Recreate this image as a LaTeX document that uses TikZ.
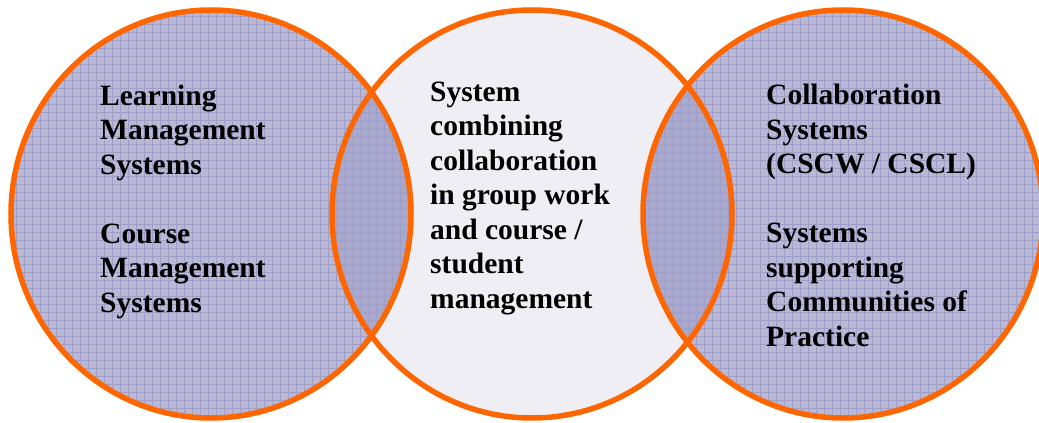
\documentclass[tikz,border=0pt]{standalone}
\usepackage{fontspec}
\setmainfont{Liberation Serif}
\usepackage{tikz}

\definecolor{ringorange}{HTML}{FF6600}
\definecolor{outerfill}{HTML}{B9B9D6}
\definecolor{lensfill}{HTML}{A9A9CD}
\definecolor{midfill}{HTML}{EEEEF4}
\definecolor{gridpurple}{HTML}{9E9EC8}

\begin{document}
\begin{tikzpicture}[
        x=1pt, y=-1pt,
        ring/.style={draw=ringorange, line width=5.5pt},
        gridlines/.style={draw=gridpurple, line width=0.6pt, step=8pt},
        label/.style={anchor=base west, align=left, inner sep=0pt, font=\bfseries\fontsize{29.5}{34.5}\selectfont}
    ]
    \useasboundingbox (0, 0) rectangle (1039, 423);

    % centres of the three sets
    \coordinate (lms) at (211, 214);
    \coordinate (mid) at (532, 214);
    \coordinate (cscw) at (843, 214);

    % --- Fills ---
    \fill[midfill] (mid) ellipse [x radius=200, y radius=204];
    \fill[outerfill] (lms) ellipse [x radius=200, y radius=204];
    \fill[outerfill] (cscw) ellipse [x radius=200, y radius=204];

    % Overlaps are a shade darker
    \begin{scope}
        \clip (mid) ellipse [x radius=200, y radius=204];
        \fill[lensfill] (lms) ellipse [x radius=200, y radius=204];
        \fill[lensfill] (cscw) ellipse [x radius=200, y radius=204];
    \end{scope}

    % Grid texture on the two outer sets
    \begin{scope}
        \clip (lms) ellipse [x radius=200, y radius=204];
        \draw[gridlines] (0, 0) grid (1039, 423);
    \end{scope}
    \begin{scope}
        \clip (cscw) ellipse [x radius=200, y radius=204];
        \draw[gridlines] (0, 0) grid (1039, 423);
    \end{scope}

    % --- Rings ---
    \draw[ring] (lms) ellipse [x radius=200, y radius=204];
    \draw[ring] (mid) ellipse [x radius=200, y radius=204];
    \draw[ring] (cscw) ellipse [x radius=200, y radius=204];

    % --- Labels (placed by the baseline of their last line) ---
    \node[label] (lms_text) at (100, 312) {Learning\\Management\\Systems\\[34.5pt]Course\\Management\\Systems};
    \node[label] (mid_text) at (430, 308) {System\\combining\\collaboration\\in group work\\and course /\\student\\management};
    \node[label] (cscw_text) at (766, 346) {Collaboration\\Systems\\(CSCW / CSCL)\\[34.5pt]Systems\\supporting\\Communities of\\Practice};

\end{tikzpicture}
\end{document}
